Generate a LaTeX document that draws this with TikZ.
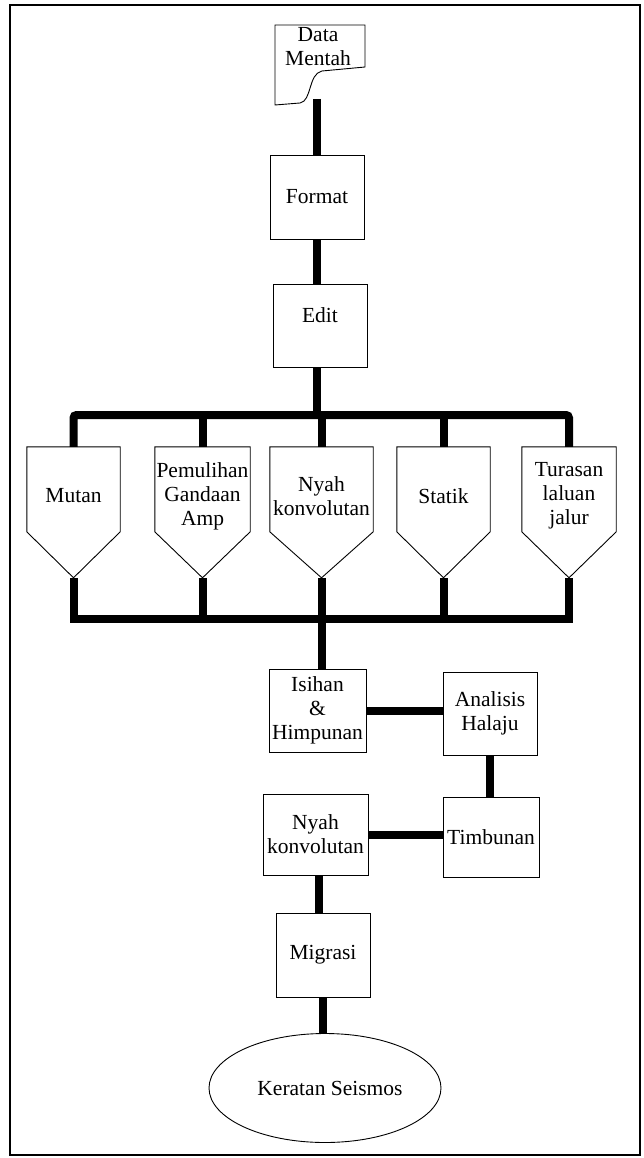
\documentclass[tikz,border=0pt]{standalone}
\usepackage{fontspec}
\setmainfont{Liberation Serif}
\usetikzlibrary{calc,shapes.geometric}
\tikzset{
  boxline/.style={draw=black, line width=0.9pt},
  box/.style={boxline, rectangle, inner sep=0pt, align=center},
  pent/.style={rectangle, inner sep=0pt, align=center, minimum height=98pt},
  conn/.style={draw=black, line width=8pt},
  txt/.style={inner sep=0pt, align=center}
}
\begin{document}
\begin{tikzpicture}[x=1pt,y=-1pt, font=\fontsize{21.5}{24}\selectfont]
\useasboundingbox (0,0) rectangle (643,1158);
\draw[line width=2pt] (10,5) rectangle (640,1155);

% Data Mentah (document shape)
\draw[boxline] (275,25) -- (365,25) -- (365,67) -- (322,71)
  .. controls (308,74) and (312,101) .. (300,103) -- (275,105) -- cycle;
\node[txt] (data) at (318,47) {Data\\Mentah};
\coordinate (dataout) at (317,99);

\node[box, minimum width=94pt, minimum height=84pt] (format) at (317,197) {Format};
\node[box, minimum width=94pt, minimum height=83pt] (edit) at (320,325.5) {\raisebox{20pt}{Edit}};

% processing pentagons
\node[pent, minimum width=93pt] (mutan) at (73.5,496) {Mutan};
\node[pent, minimum width=95pt] (pem) at (202.5,496) {Pemulihan\\Gandaan\\Amp};
\node[pent, minimum width=103pt] (nyah) at (321.5,496) {Nyah\\konvolutan};
\node[pent, minimum width=93pt] (statik) at (443.5,496) {Statik};
\node[pent, minimum width=94pt] (turasan) at (569,496) {Turasan\\laluan\\jalur};
\foreach \n in {mutan,pem,nyah,statik,turasan}{
  \draw[boxline] (\n.north west) -- (\n.north east) -- ($(\n.north east)+(0,85)$)
    -- ($(\n.north)+(0,131)$) -- ($(\n.north west)+(0,85)$) -- cycle;
}
\coordinate (mutantip) at ($(mutan.north)+(0,131)$);
\coordinate (pemtip) at ($(pem.north)+(0,131)$);
\coordinate (nyahtip) at ($(nyah.north)+(0,131)$);
\coordinate (statiktip) at ($(statik.north)+(0,131)$);
\coordinate (turasantip) at ($(turasan.north)+(0,131)$);

\node[box, minimum width=97pt, minimum height=83pt] (isihan) at (317.5,710.5) {Isihan\\\&\\Himpunan};
\node[box, minimum width=94pt, minimum height=83pt] (analisis) at (490,713.5) {Analisis\\Halaju};
\node[box, minimum width=96pt, minimum height=80pt] (timbunan) at (491,837) {Timbunan};
\node[box, minimum width=105pt, minimum height=81pt] (nyah2) at (315.5,834.5) {Nyah\\konvolutan};
\node[box, minimum width=94pt, minimum height=84pt] (migrasi) at (323,955) {Migrasi};
\node[boxline, ellipse, inner sep=0pt, minimum width=232pt, minimum height=109pt] (keratan) at (325,1088) {\hspace*{10pt}Keratan Seismos};

% connectors
\draw[conn] (dataout) -- (format.north);
\draw[conn] (format.south) -- (format.south |- edit.north);
\coordinate (topbus) at (320,415);
\coordinate (botbus) at (320,619);
\draw[conn] (edit.south -| format.south) -- (format.south |- topbus);
\draw[conn, rounded corners=3pt] (mutan.north) -- (mutan.north |- topbus) -- (turasan.north |- topbus) -- (turasan.north);
\draw[conn] (pem.north |- topbus) -- (pem.north);
\draw[conn] (nyah.north |- topbus) -- (nyah.north);
\draw[conn] (statik.north |- topbus) -- (statik.north);
\draw[conn] (mutantip) -- (mutantip |- botbus) -- (turasantip |- botbus) -- (turasantip);
\draw[conn] (pemtip) -- (pemtip |- botbus);
\draw[conn] (nyahtip) -- (nyahtip |- botbus);
\draw[conn] (statiktip) -- (statiktip |- botbus);
\draw[conn] (nyahtip |- botbus) -- (nyahtip |- isihan.north);
\draw[conn] (isihan.east) -- (isihan.east -| analisis.west);
\draw[conn] (analisis.south) -- (analisis.south |- timbunan.north);
\draw[conn] (nyah2.east) -- (nyah2.east -| timbunan.west);
\coordinate (m1) at ($(nyah2.south)!.5!(migrasi.north)$);
\draw[conn] (nyah2.south -| m1) -- (migrasi.north -| m1);
\draw[conn] (migrasi.south) -- (migrasi.south |- keratan.north);
\end{tikzpicture}
\end{document}
